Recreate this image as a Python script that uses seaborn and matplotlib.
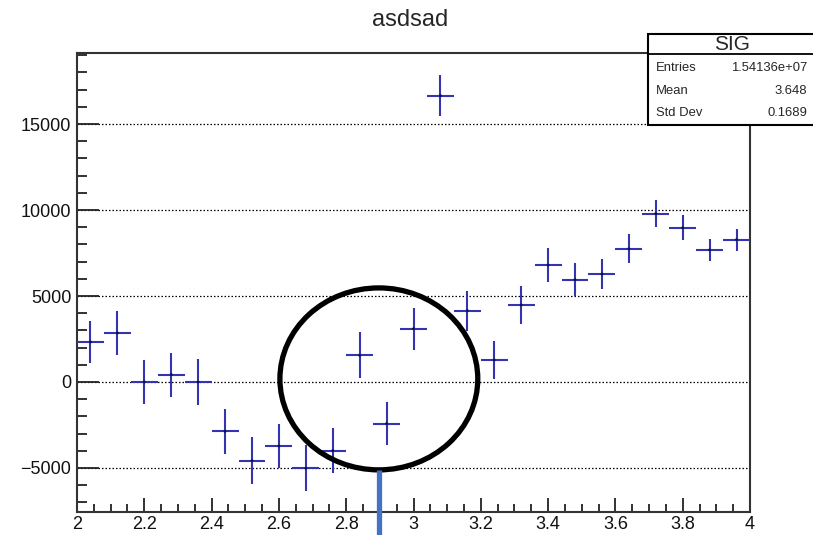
import numpy as np
import pandas as pd
import seaborn as sns
import matplotlib.pyplot as plt
from matplotlib.patches import Ellipse, Rectangle
from matplotlib.ticker import FixedLocator, MultipleLocator

sns.set_theme(style="white")
plt.rcParams["font.family"] = ["Liberation Sans", "DejaVu Sans"]

# bin centres (bin width 0.08) and contents
bin_centers = [2.04, 2.12, 2.20, 2.28, 2.36, 2.44, 2.52, 2.60, 2.68, 2.76,
               2.84, 2.92, 3.00, 3.08, 3.16, 3.24, 3.32, 3.40, 3.48, 3.56,
               3.64, 3.72, 3.80, 3.88, 3.96]
bin_half_width = 0.04
counts = [2330, 2850, 0, 430, 0, -2870, -4570, -3720, -5020, -3990,
          1550, -2420, 3100, 16650, 4150, 1280, 4480, 6800, 5950, 6280,
          7750, 9790, 8970, 7680, 8280]
errors = [1230, 1280, 1280, 1280, 1320, 1320, 1370, 1300, 1330, 1310,
          1340, 1240, 1230, 1190, 1160, 1100, 1080, 990, 940, 890,
          840, 800, 730, 660, 640]

x_ticks = [2.0, 2.2, 2.4, 2.6, 2.8, 3.0, 3.2, 3.4, 3.6, 3.8, 4.0]
x_labels = ["2", "2.2", "2.4", "2.6", "2.8", "3", "3.2", "3.4", "3.6", "3.8", "4"]
y_ticks = [-5000, 0, 5000, 10000, 15000]
y_labels = ["\u22125000", "0", "5000", "10000", "15000"]

title = "asdsad"
stats_name = "SIG"
stats_rows = [("Entries", "1.54136e+07"), ("Mean", "3.648"), ("Std Dev", "0.1689")]

df = pd.DataFrame({"x": bin_centers, "y": counts, "err": errors})

fig = plt.figure(figsize=(8.13, 5.35), dpi=100)
ax = fig.add_axes([77 / 813, 1 - 512 / 535, (750 - 77) / 813, (512 - 53) / 535])

blue = "#3434B2"
ax.errorbar(df["x"], df["y"], xerr=bin_half_width, yerr=df["err"], fmt="none",
            ecolor=blue, elinewidth=1.5, capsize=0, zorder=3)
sns.scatterplot(data=df, x="x", y="y", ax=ax, s=4, color="#101040",
                edgecolor="none", zorder=4, legend=False)

ax.set_xlim(2.0, 4.0)
ax.set_ylim(-7560, 19130)
ax.set_xlabel("")
ax.set_ylabel("")

ax.xaxis.set_major_locator(FixedLocator(x_ticks))
ax.set_xticklabels(x_labels)
ax.xaxis.set_minor_locator(MultipleLocator(0.05))
ax.yaxis.set_major_locator(FixedLocator(y_ticks))
ax.set_yticklabels(y_labels)
ax.yaxis.set_minor_locator(MultipleLocator(1000))

ax.tick_params(axis="x", which="major", direction="in", length=10, width=1.3,
               color="#222222", labelsize=13, labelcolor="#111111", pad=3,
               top=False, bottom=True)
ax.tick_params(axis="x", which="minor", direction="in", length=5.5, width=1.3,
               color="#222222", top=False, bottom=True)
ax.tick_params(axis="y", which="major", direction="in", length=16, width=1.3,
               color="#222222", labelsize=13, labelcolor="#111111", pad=4,
               left=True, right=False)
ax.tick_params(axis="y", which="minor", direction="in", length=7.5, width=1.3,
               color="#222222", left=True, right=False)

ax.yaxis.grid(True, which="major", linestyle=(0, (1.2, 1.6)), color="black", lw=0.9)
ax.xaxis.grid(False)
for sp in ax.spines.values():
    sp.set_linewidth(1.5)
    sp.set_color("#333333")

# hand-drawn highlight: circle and pointer line
ax.add_patch(Ellipse((2.897, 180), 0.588, 10580, fill=False, ec="black",
                     lw=3.8, zorder=5, clip_on=False))
ax.plot([2.897, 2.897], [-5110, -9500], color="#4472C4", lw=3.8,
        solid_capstyle="butt", clip_on=False, zorder=6)

fig.text(410 / 813, 1 - 20 / 535, title, ha="center", va="center", fontsize=17)

# statistics box
box = Rectangle((648 / 813, 1 - 125 / 535), 0.25, (125 - 34) / 535,
                transform=fig.transFigure, fc="white", ec="black", lw=1.5,
                zorder=10, clip_on=False)
fig.add_artist(box)
fig.add_artist(plt.Line2D([648 / 813, 1.0], [1 - 54 / 535, 1 - 54 / 535],
                          transform=fig.transFigure, color="black", lw=1.3, zorder=11))
fig.text(732 / 813, 1 - 44 / 535, stats_name, ha="center", va="center",
         fontsize=15, zorder=12)
for (name, val), ypx in zip(stats_rows, [68, 91, 113]):
    fig.text(656 / 813, 1 - ypx / 535, name, ha="left", va="center",
             fontsize=9.4, zorder=12)
    fig.text(807 / 813, 1 - ypx / 535, val, ha="right", va="center",
             fontsize=9.4, zorder=12)

fig.savefig("out.png", dpi=100)
